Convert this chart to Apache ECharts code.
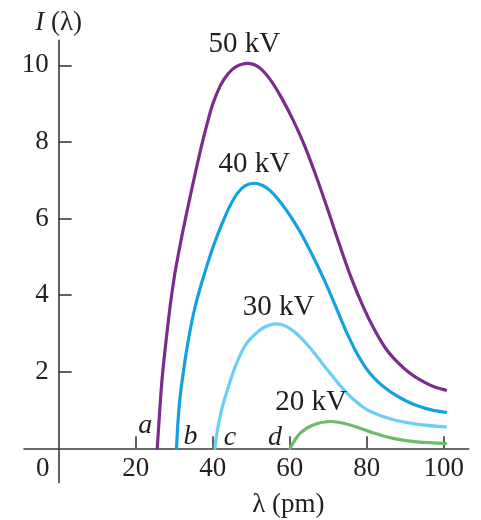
<!DOCTYPE html>
<html>
<head>
<meta charset="utf-8">
<script src="https://cdn.jsdelivr.net/npm/echarts@6/dist/echarts.min.js"></script>
<style>
html,body{margin:0;padding:0;background:#fff;}
#chart{width:481px;height:520px;}
</style>
</head>
<body>
<div id="chart"></div>
<script>
// curves: wavelength (pm) and intensity
var kv50X = [25.6, 26.0, 26.5, 27.0, 28.0, 29.0, 30.0, 31.0, 32.0, 33.0, 34.0, 35.5, 37.0, 38.5, 40.0, 42.0, 44.0, 46.0, 49.0, 52.0, 55.0, 58.0, 61.0, 64.0, 67.0, 70.0, 73.0, 76.0, 79.0, 82.0, 85.0, 88.0, 91.0, 94.0, 97.0, 100.5];
var kv50Y = [0, 0.6, 1.35, 1.96, 2.9, 3.75, 4.45, 5.02, 5.54, 6.03, 6.5, 7.19, 7.85, 8.45, 8.98, 9.47, 9.78, 9.96, 10.05, 9.95, 9.62, 9.13, 8.55, 7.87, 7.07, 6.2, 5.3, 4.45, 3.72, 3.1, 2.6, 2.25, 1.98, 1.78, 1.63, 1.52];
var kv40X = [30.6, 31.0, 31.5, 32.4, 33.5, 35.0, 36.5, 38.0, 39.5, 41.0, 42.8, 44.5, 46.5, 48.5, 50.8, 53.0, 55.0, 57.0, 59.0, 61.0, 63.0, 65.0, 67.0, 69.0, 71.0, 73.0, 75.0, 77.0, 79.0, 81.0, 83.0, 85.0, 87.0, 90.0, 93.0, 96.5, 100.5];
var kv40Y = [0, 0.7, 1.3, 2.0, 2.72, 3.5, 4.1, 4.6, 5.08, 5.5, 5.95, 6.33, 6.67, 6.86, 6.92, 6.86, 6.72, 6.5, 6.24, 5.94, 5.6, 5.22, 4.82, 4.39, 3.93, 3.45, 2.98, 2.57, 2.22, 1.94, 1.73, 1.56, 1.42, 1.25, 1.12, 1.01, 0.94];
var kv30X = [40.6, 41.1, 42.3, 44.1, 46.2, 48.8, 52.3, 54.5, 56.6, 59.0, 61.0, 63.0, 65.0, 67.0, 69.0, 71.0, 73.0, 75.0, 77.0, 79.0, 81.0, 84.0, 88.0, 94.0, 100.5];
var kv30Y = [0, 0.39, 1.0, 1.61, 2.22, 2.74, 3.09, 3.21, 3.25, 3.19, 3.06, 2.88, 2.66, 2.41, 2.15, 1.90, 1.65, 1.43, 1.24, 1.08, 0.96, 0.84, 0.72, 0.62, 0.56];
var kv20X = [60.1, 62.7, 66.1, 70.5, 75.7, 80.9, 86.9, 93.0, 100.5];
var kv20Y = [0, 0.39, 0.61, 0.70, 0.61, 0.43, 0.26, 0.17, 0.13];

var seriesNames = ['50 kV', '40 kV', '30 kV', '20 kV'];
var cutoffLetters = ['a', 'b', 'c', 'd'];
var xTickValues = [20, 40, 60, 80, 100];
var xLabelValues = [0, 20, 40, 60, 80, 100];
var yTickValues = [2, 4, 6, 8, 10];

(function(){
    var FONT = 'Liberation Serif',
        TEXT = '#231f20',
        AXIS = '#3a3a3a',
        colors = ['#7b2d8e', '#12a2e0', '#6dcdf4', '#6cbd6a'],
        xs = [kv50X, kv40X, kv30X, kv20X],
        ys = [kv50Y, kv40Y, kv30Y, kv20Y],
        xMin = -9, xMax = 106.5, yMin = -0.9, yMax = 10.65,
        grid = {left: 24, right: 12.3, top: 40.4, bottom: 37.2},
        // where the kV label sits relative to the peak, and the letter relative to the cutoff
        nameOffsets = [[-3, -19], [0, -19], [2, -16], [-19, -19]],
        letterOffsets = [[-12, -23], [14, -12], [15, -11], [-15, -11]];

    // move the axes in to the zero lines (labels do not follow onZero here)
    var plotW = 481 - grid.left - grid.right,
        plotH = 520 - grid.top - grid.bottom,
        yAxisShift = -plotW * (0 - xMin) / (xMax - xMin),
        xAxisShift = -plotH * (0 - yMin) / (yMax - yMin);

    function pairs(x, y){
        var out = [];
        for(var i = 0; i < x.length; i++){
            out.push([x[i], y[i]]);
        }
        return out;
    }

    function makeSeries(i){
        return {
            type: 'line',
            name: seriesNames[i],
            data: pairs(xs[i], ys[i]),
            smooth: 0.35,
            showSymbol: false,
            symbol: 'none',
            lineStyle: {color: colors[i], width: 3.2, cap: 'round'},
            markPoint: {
                symbol: 'circle',
                symbolSize: 0,
                silent: true,
                data: [
                    {
                        type: 'max',
                        valueIndex: 1,
                        label: {
                            show: true,
                            position: 'inside',
                            offset: nameOffsets[i],
                            formatter: seriesNames[i],
                            fontFamily: FONT,
                            fontSize: 29,
                            color: TEXT
                        }
                    },
                    {
                        coord: [xs[i][0], ys[i][0]],
                        label: {
                            show: true,
                            position: 'inside',
                            offset: letterOffsets[i],
                            formatter: cutoffLetters[i],
                            fontFamily: FONT,
                            fontStyle: 'italic',
                            fontSize: 28,
                            color: TEXT
                        }
                    }
                ]
            }
        };
    }

    var chart = echarts.init(document.getElementById('chart'));
    var option = {
        animation: false,
        backgroundColor: '#fff',
        grid: {left: grid.left, right: grid.right, top: grid.top, bottom: grid.bottom, containLabel: false, outerBoundsMode: 'none'},
        xAxis: {
            type: 'value',
            min: xMin,
            max: xMax,
            offset: xAxisShift,
            name: 'λ (pm)',
            nameLocation: 'middle',
            nameGap: 43,
            nameTextStyle: {fontFamily: FONT, fontSize: 27, color: TEXT, padding: [0, 0, 0, 84]},
            axisLine: {onZero: false, lineStyle: {color: AXIS, width: 1.6}},
            axisTick: {show: true, inside: true, length: 12, customValues: xTickValues, lineStyle: {color: AXIS, width: 1.6}},
            axisLabel: {
                customValues: xLabelValues,
                margin: 7,
                fontFamily: FONT,
                fontSize: 27,
                color: TEXT,
                formatter: function(v){
                    return v === 0 ? '{z|0}' : String(v);
                },
                rich: {
                    z: {fontFamily: FONT, fontSize: 27, color: TEXT, padding: [0, 32, 0, 0]}
                }
            },
            splitLine: {show: false}
        },
        yAxis: {
            type: 'value',
            min: yMin,
            max: yMax,
            offset: yAxisShift,
            name: '{i|I} (λ)',
            nameLocation: 'end',
            nameGap: 4,
            nameTextStyle: {
                fontFamily: FONT, fontSize: 27, color: TEXT,
                rich: {i: {fontFamily: FONT, fontSize: 27, fontStyle: 'italic', color: TEXT}}
            },
            axisLine: {onZero: false, lineStyle: {color: AXIS, width: 1.6}},
            axisTick: {show: true, inside: true, length: 13, customValues: yTickValues, lineStyle: {color: AXIS, width: 1.6}},
            axisLabel: {customValues: yTickValues, margin: 10, fontFamily: FONT, fontSize: 27, color: TEXT},
            splitLine: {show: false}
        },
        series: [makeSeries(0), makeSeries(1), makeSeries(2), makeSeries(3)]
    };
    chart.setOption(option);
})();
</script>
</body>
</html>
